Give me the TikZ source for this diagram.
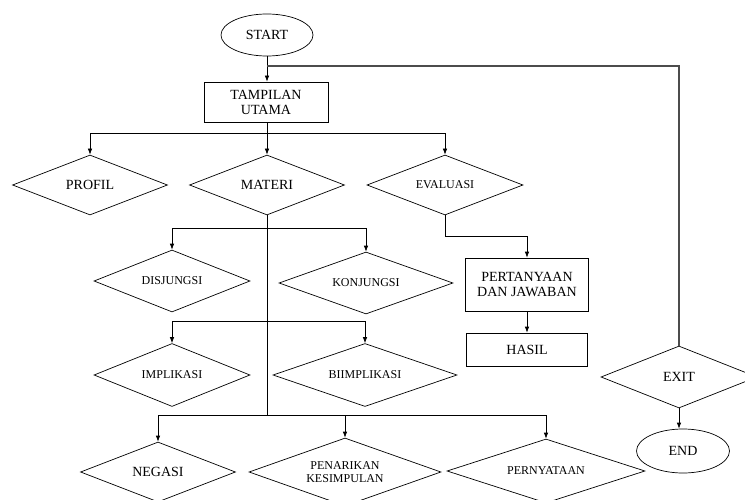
\documentclass[tikz,border=0pt]{standalone}
\usepackage{fontspec}
\setmainfont{Liberation Serif}
\usetikzlibrary{shapes.geometric,arrows.meta}
\begin{document}
\begin{tikzpicture}[x=1pt,y=-1pt,
  line width=0.7pt,
  big/.style={font=\fontsize{14}{15}\selectfont},
  small/.style={font=\fontsize{12}{13}\selectfont},
  dia/.style={diamond,draw,aspect=2.5,inner sep=0pt,align=center},
  boxn/.style={rectangle,draw,inner sep=0pt,align=center,big},
  term/.style={ellipse,draw,inner sep=0pt,big},
  arr/.style={-{Latex[length=6pt,width=4.5pt]}},
  fbline/.style={draw=black!70,line width=1.1pt}]
\clip (0,0) rectangle (745,500);
\fill[white] (0,0) rectangle (745,500);

% nodes
\node[term,minimum width=92pt,minimum height=42pt] (start) at (267,35) {START};
\node[boxn,minimum width=124pt,minimum height=40pt] (tamp) at (266,102) {TAMPILAN\\UTAMA};
\node[dia,big,minimum width=155pt,minimum height=60pt] (profil) at (90,185) {PROFIL};
\node[dia,big,minimum width=155pt,minimum height=60pt] (materi) at (267,185) {MATERI};
\node[dia,small,minimum width=156pt,minimum height=60pt] (eval) at (445,185) {EVALUASI};
\node[dia,small,minimum width=156pt,minimum height=62pt] (disj) at (172,281) {DISJUNGSI};
\node[dia,small,minimum width=174pt,minimum height=62pt] (konj) at (366,283) {KONJUNGSI};
\node[dia,small,minimum width=156pt,minimum height=63pt] (impl) at (172,375) {IMPLIKASI};
\node[dia,small,minimum width=184pt,minimum height=63pt] (biimp) at (365,375) {BIIMPLIKASI};
\node[boxn,minimum width=123pt,minimum height=53pt] (tanya) at (527,284.5) {PERTANYAAN\\DAN JAWABAN};
\node[boxn,minimum width=121pt,minimum height=33pt] (hasil) at (527,349.5) {HASIL};
\node[dia,big,minimum width=156pt,minimum height=62pt] (exit) at (679,377) {EXIT};
\node[term,minimum width=93pt,minimum height=44pt] (end) at (683,451) {END};
\node[dia,big,minimum width=155pt,minimum height=60pt] (neg) at (158,472) {NEGASI};
\node[dia,small,minimum width=192pt,minimum height=68pt] (penar) at (345,472) {PENARIKAN\\KESIMPULAN};
\node[dia,small,minimum width=198pt,minimum height=64pt] (perny) at (546,471) {PERNYATAAN};

% junction coordinates
\coordinate (fb) at (267,66);
\coordinate (j1) at (267,133);
\coordinate (j2) at (267,228);
\coordinate (j3) at (267,321);
\coordinate (j4) at (267,415);
\coordinate (ev) at (445,236);

% connectors
\draw[arr] (start.south) -- (start.south |- tamp.north);
\draw[fbline] (exit.north) |- (fb);
\draw (tamp.south -| j1) -- (j1);
\draw[arr] (j1) -| (profil.north);
\draw[arr] (j1) -| (eval.north);
\draw[arr] (j1) -- (materi.north);
\draw (materi.south) -- (j4);
\draw[arr] (j2) -| (disj.north);
\draw[arr] (j2) -| (konj.north);
\draw[arr] (j3) -| (impl.north);
\draw[arr] (j3) -| (biimp.north);
\draw[arr] (j4) -| (neg.north);
\draw[arr] (j4) -| (penar.north);
\draw[arr] (j4) -| (perny.north);
\draw (eval.south) -- (ev);
\draw[arr] (ev) -| (tanya.north);
\draw[arr] (tanya.south) -- (hasil.north);
\draw[arr] (exit.south) -- (exit.south |- end.north);
\end{tikzpicture}
\end{document}
